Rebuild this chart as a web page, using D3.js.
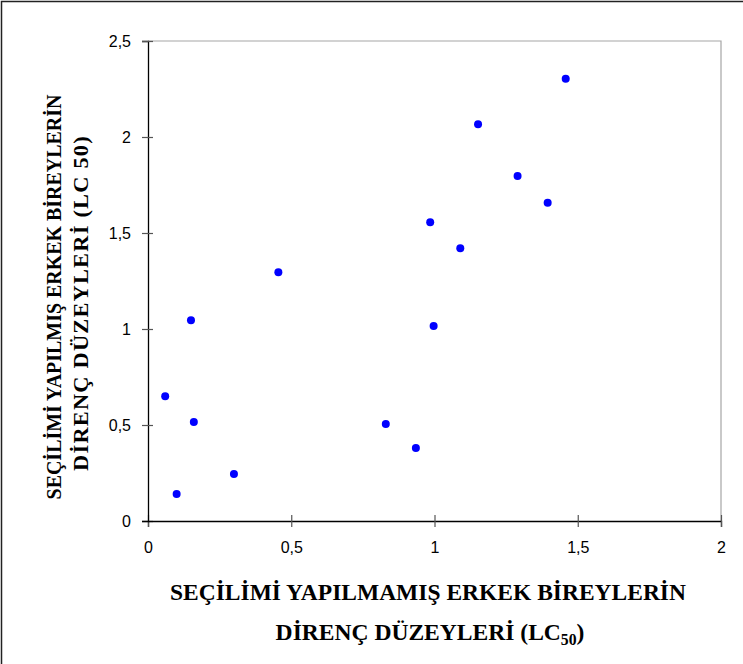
<!DOCTYPE html>
<html>
<head>
<meta charset="utf-8">
<script src="https://cdn.jsdelivr.net/npm/d3@7"></script>
<style>
  body { margin: 0; background: #fff; }
  svg { display: block; }
  .tick text { font-family: "Liberation Sans", Arial, sans-serif; font-size: 16px; fill: #000; }
  .title { font-family: "Liberation Serif", "Times New Roman", serif; font-weight: bold; fill: #000; }
</style>
</head>
<body>
<svg id="chart" width="743" height="664"></svg>
<script>
// values
const unselected = [0.06, 0.10, 0.15, 0.16, 0.30, 0.455, 0.83, 0.935, 0.985, 0.997, 1.09, 1.152, 1.29, 1.395, 1.458];
const selected   = [0.65, 0.14, 1.045, 0.515, 0.245, 1.295, 0.505, 0.38, 1.556, 1.016, 1.42, 2.066, 1.797, 1.658, 2.304];
const xTicks = [0, 0.5, 1, 1.5, 2];
const yTicks = [0, 0.5, 1, 1.5, 2, 2.5];
const xTitle = ["SEÇİLİMİ YAPILMAMIŞ  ERKEK BİREYLERİN", "DİRENÇ DÜZEYLERİ (LC", "50", ")"];
const yTitle = ["SEÇİLİMİ YAPILMIŞ ERKEK BİREYLERİN", "DİRENÇ DÜZEYLERİ (LC 50)"];

const svg = d3.select("#chart");
const margin = { left: 148, top: 41, right: 22, bottom: 143 };
const W = 743, H = 664;
const plotW = W - margin.left - margin.right;
const plotH = H - margin.top - margin.bottom;

const x = d3.scaleLinear().domain([0, 2]).range([0, plotW]);
const y = d3.scaleLinear().domain([0, 2.5]).range([plotH, 0]);
const fmt = d => String(d).replace(".", ",");

// outer frame (top and left edges show in the picture)
svg.append("path")
  .attr("d", `M1.5,${H} L1.5,1.5 L${W},1.5`)
  .attr("fill", "none")
  .attr("stroke", "#222")
  .attr("stroke-width", 1.5);

const g = svg.append("g").attr("transform", `translate(${margin.left},${margin.top})`);

// grey top/right frame of the plot area
g.append("path")
  .attr("d", `M0,0 L${plotW},0 L${plotW},${plotH}`)
  .attr("fill", "none")
  .attr("stroke", "#a6a6a6")
  .attr("stroke-width", 1.2);

// axes
const xAxis = g.append("g")
  .attr("transform", `translate(0,${plotH})`)
  .call(d3.axisBottom(x).tickValues(xTicks).tickFormat(fmt).tickSize(6).tickPadding(15));
xAxis.select(".domain").attr("stroke", "#000").attr("stroke-width", 1.3);
xAxis.selectAll(".tick line").attr("y1", -6).attr("stroke", "#555").attr("stroke-width", 1.2);

const yAxis = g.append("g")
  .call(d3.axisLeft(y).tickValues(yTicks).tickFormat(fmt).tickSize(6).tickPadding(11));
yAxis.select(".domain").attr("stroke", "#000").attr("stroke-width", 1.3);
yAxis.selectAll(".tick line").attr("x1", 5).attr("x2", -6).attr("stroke", "#555").attr("stroke-width", 1.2);
yAxis.selectAll(".tick").filter(d => d === 0).select("line").attr("stroke", "#000");

// points
g.selectAll("circle.pt")
  .data(unselected.map((v, i) => [v, selected[i]]))
  .enter()
  .append("circle")
  .attr("class", "pt")
  .attr("cx", d => x(d[0]))
  .attr("cy", d => y(d[1]))
  .attr("r", 4)
  .attr("fill", "#0000ff");

// squeeze a centred title line into a given length (condensed look)
function fitLine(text, cx, cy, target) {
  const len = text.node().getComputedTextLength();
  const k = target / len;
  text.attr("x", 0).attr("y", 0)
    .attr("transform", `translate(${cx},${cy}) scale(${k},1)`);
}

// x axis title
const xt = svg.append("g").attr("class", "title");
const x1 = xt.append("text")
  .attr("text-anchor", "middle")
  .attr("font-size", 24)
  .text(xTitle[0]);
fitLine(x1, 428, 600, 516);
const x2 = xt.append("text")
  .attr("text-anchor", "middle")
  .attr("font-size", 24);
x2.append("tspan").text(xTitle[1]);
x2.append("tspan").attr("font-size", 16).attr("dy", 5).text(xTitle[2]);
x2.append("tspan").attr("dy", -5).text(xTitle[3]);
fitLine(x2, 430, 640, 309);

// y axis title
const yt = svg.append("g").attr("class", "title")
  .attr("transform", "rotate(-90)");
const y1 = yt.append("text")
  .attr("text-anchor", "middle")
  .attr("font-size", 22)
  .text(yTitle[0]);
fitLine(y1, -297, 61, 405);
const y2 = yt.append("text")
  .attr("text-anchor", "middle")
  .attr("font-size", 22)
  .attr("letter-spacing", 1.2)
  .text(yTitle[1]);
fitLine(y2, -303, 88, 336);
</script>
</body>
</html>
